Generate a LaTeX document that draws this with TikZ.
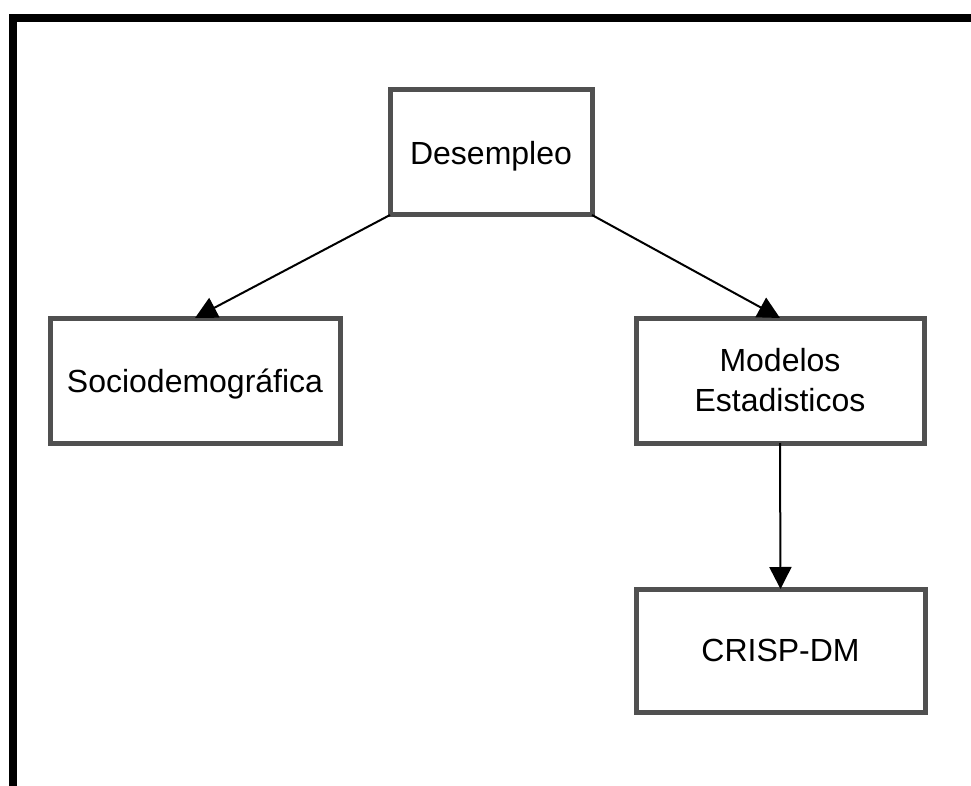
\documentclass[tikz,border=0pt]{standalone}
\usepackage{fontspec}
\setmainfont{Liberation Sans}
\usetikzlibrary{arrows.meta}
\definecolor{boxgray}{RGB}{80,80,80}
\tikzset{
  box/.style={draw=boxgray, line width=5pt, rectangle, inner sep=0pt, outer sep=0pt,
    align=center, font=\fontsize{32}{40}\selectfont, text=black},
  oneline/.style={text depth=0pt},
  conn/.style={draw=black, line width=2pt, -{Triangle[length=22pt,width=22pt]}}
}
\begin{document}
\begin{tikzpicture}[x=1pt,y=-1pt]
\useasboundingbox (0,0) rectangle (971,786);
\fill[white] (0,0) rectangle (971,786);
% frame (top and left)
\draw[line width=8pt, line join=miter] (13,786) -- (13,18) -- (971,18);
\node[box, oneline, minimum width=202pt, minimum height=125pt] (des) at (491,152.5) {Desempleo};
\node[box, oneline, minimum width=290pt, minimum height=125pt] (soc) at (195,380.5) {Sociodemográfica};
\node[box, minimum width=288pt, minimum height=125pt] (mod) at (780,380.5) {Modelos\\Estadisticos};
\node[box, oneline, minimum width=289pt, minimum height=123pt] (cri) at (780.5,650.5) {CRISP-DM};
\draw[conn] (des.south west) -- (soc.north);
\draw[conn] (des.south east) -- (mod.north);
\draw[conn] (mod.south) -- (cri.north);
\end{tikzpicture}
\end{document}
